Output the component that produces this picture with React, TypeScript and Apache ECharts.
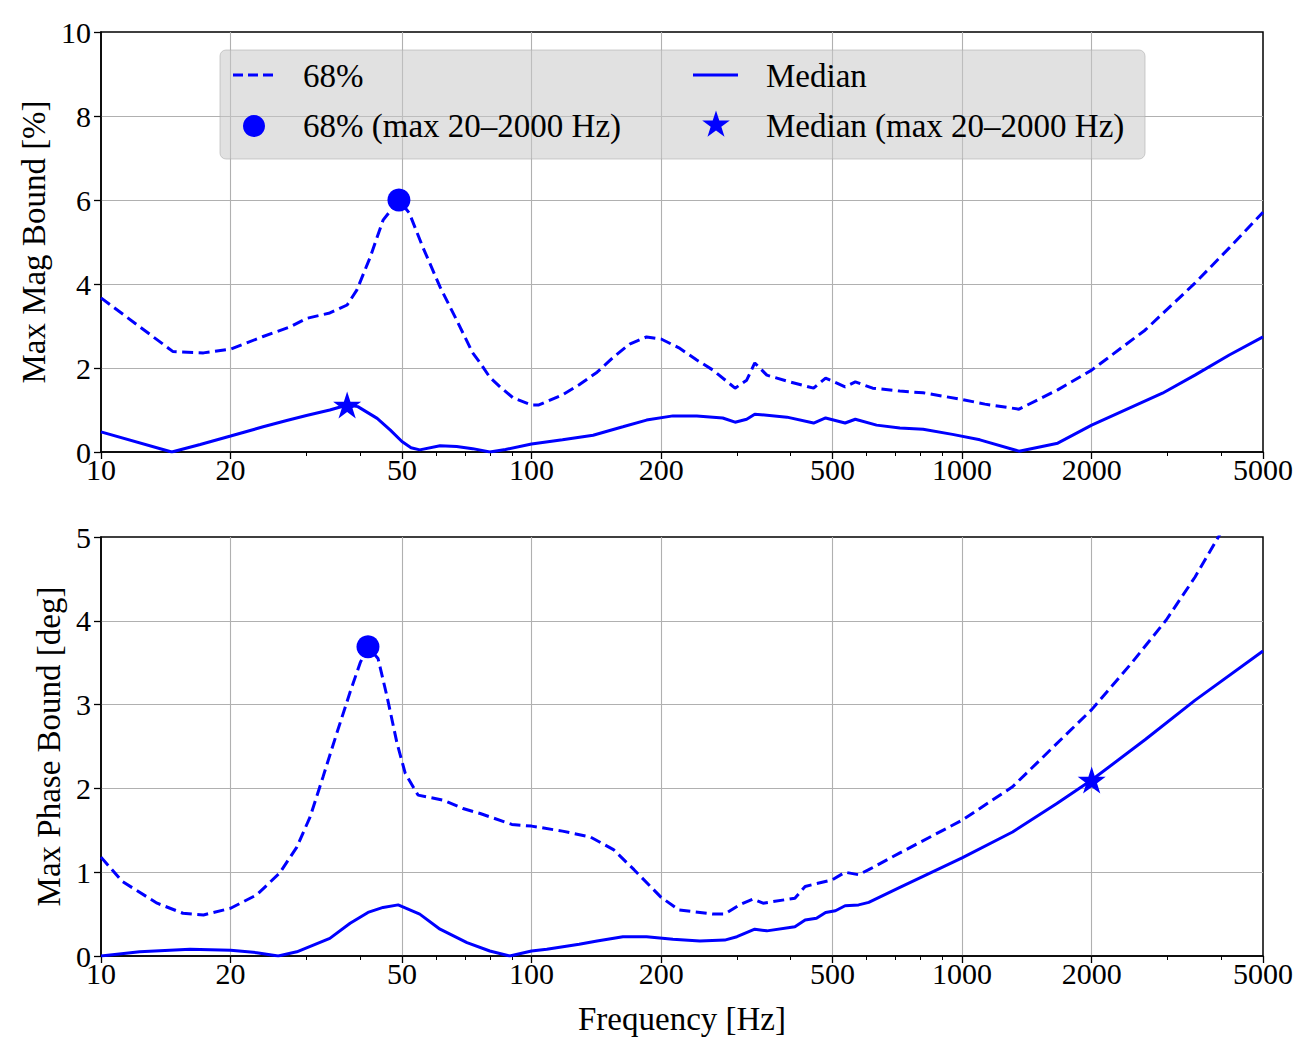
import React, { useEffect, useRef } from 'react';
import * as echarts from 'echarts';

const FONT = '"Liberation Serif", "Times New Roman", serif';
const BLUE = '#0000ff';

const xTickValues = [10, 20, 50, 100, 200, 500, 1000, 2000, 5000];
const xMinorTickValues = [30, 40, 60, 70, 80, 90, 300, 400, 600, 700, 800, 900, 3000, 4000];

const legendLabels = ['68%', '68% (max 20–2000 Hz)', 'Median', 'Median (max 20–2000 Hz)'];

const magUpperFreq = [10, 14.7, 17.3, 20, 23.8, 27.5, 30, 34, 37.3, 39.3, 42.2, 45.2, 49.2, 52, 55.9, 61.3, 67, 73, 76, 80, 84.5, 90.6, 100, 104, 118, 129, 142, 155, 169, 185, 200, 220, 242, 264, 297, 316, 330, 352, 398, 452, 482, 535, 565, 620, 717, 812, 1000, 1130, 1356, 1668, 2000, 2660, 3474, 4175, 5000];
const magUpperVals = [3.67, 2.39, 2.36, 2.45, 2.75, 2.98, 3.18, 3.31, 3.5, 3.86, 4.64, 5.52, 6.0, 5.69, 4.88, 3.93, 3.14, 2.36, 2.12, 1.78, 1.55, 1.29, 1.12, 1.12, 1.36, 1.6, 1.9, 2.26, 2.57, 2.74, 2.69, 2.48, 2.19, 1.95, 1.52, 1.71, 2.12, 1.83, 1.67, 1.52, 1.76, 1.55, 1.67, 1.52, 1.45, 1.41, 1.25, 1.14, 1.02, 1.48, 1.95, 2.9, 4.02, 4.86, 5.71];

const magMedianFreq = [10, 14.6, 17, 20, 23.8, 27, 30, 34, 37.3, 39.5, 43.8, 47, 50, 52.5, 55, 61.3, 67, 73, 80, 87, 100, 118, 139, 163, 185, 213, 242, 278, 297, 316, 330, 392, 452, 482, 535, 565, 633, 717, 812, 950, 1100, 1356, 1668, 2000, 2920, 3474, 4175, 5000];
const magMedianVals = [0.48, 0.0, 0.18, 0.38, 0.6, 0.75, 0.87, 1.0, 1.12, 1.08, 0.8, 0.52, 0.25, 0.1, 0.05, 0.15, 0.13, 0.08, 0.0, 0.06, 0.19, 0.29, 0.4, 0.6, 0.76, 0.86, 0.86, 0.81, 0.71, 0.78, 0.9, 0.83, 0.69, 0.81, 0.69, 0.78, 0.64, 0.57, 0.54, 0.42, 0.29, 0.02, 0.21, 0.64, 1.4, 1.83, 2.31, 2.74];

const phaseUpperFreq = [10, 11.2, 13.5, 15.5, 17.3, 20, 23, 26, 28.5, 30.6, 32.8, 35.3, 37.9, 40, 41.7, 44, 46.2, 48.7, 50.9, 54.5, 62.3, 69.3, 76, 90, 100, 118, 137, 155, 173, 200, 220, 264, 281, 304, 327, 345, 409, 432, 500, 535, 575, 607, 717, 1000, 1310, 2000, 2480, 2980, 3474, 3960, 4300];
const phaseUpperVals = [1.18, 0.89, 0.63, 0.51, 0.49, 0.57, 0.73, 0.99, 1.3, 1.66, 2.14, 2.66, 3.15, 3.5, 3.69, 3.55, 3.09, 2.54, 2.18, 1.92, 1.86, 1.76, 1.7, 1.57, 1.55, 1.49, 1.42, 1.27, 1.03, 0.7, 0.55, 0.5, 0.5, 0.61, 0.68, 0.63, 0.69, 0.83, 0.91, 1.0, 0.97, 1.03, 1.23, 1.62, 2.02, 2.94, 3.5, 4.01, 4.52, 5.02, 5.4];

const phaseMedianFreq = [10, 12.3, 16.1, 20, 23, 25.8, 28.5, 34, 37.9, 41.7, 45.2, 49, 55, 61.3, 70.8, 80, 89, 100, 108.5, 129, 142, 163, 185, 213, 246, 281, 300, 330, 352, 409, 432, 459, 482, 508, 535, 575, 607, 717, 1000, 1310, 1660, 2000, 2660, 3474, 5000];
const phaseMedianVals = [0.0, 0.05, 0.08, 0.07, 0.04, 0.0, 0.05, 0.21, 0.39, 0.52, 0.58, 0.61, 0.5, 0.32, 0.16, 0.06, 0.0, 0.06, 0.08, 0.14, 0.18, 0.23, 0.23, 0.2, 0.18, 0.19, 0.23, 0.32, 0.3, 0.35, 0.43, 0.45, 0.52, 0.54, 0.6, 0.61, 0.64, 0.82, 1.17, 1.48, 1.82, 2.1, 2.58, 3.05, 3.64];

const magPeak68 = [49.2, 6.0];
const magPeakMedian = [37.3, 1.12];
const phasePeak68 = [41.7, 3.69];
const phasePeakMedian = [2000, 2.1];

const STAR_PATH = 'path://M50 0 L61.2 34.5 L97.6 34.5 L68.2 55.9 L79.4 90.5 L50 69.1 L20.6 90.5 L31.8 55.9 L2.4 34.5 L38.8 34.5 Z';
const DASH = [11, 5.5];

const zip = (f: number[], v: number[]) => f.map((x, i) => [x, v[i]]);

function starPoints(cx: number, cy: number, R: number, r: number) {
  const pts: number[][] = [];
  for (let k = 0; k < 10; k++) {
    const a = -Math.PI / 2 + (k * Math.PI) / 5;
    const rad = k % 2 === 0 ? R : r;
    pts.push([cx + rad * Math.cos(a), cy + rad * Math.sin(a)]);
  }
  return pts;
}

function mainX(gridIndex: number, withName: boolean) {
  return {
    type: 'log',
    logBase: 10,
    gridIndex,
    min: 10,
    max: 5000,
    position: 'bottom',
    name: withName ? 'Frequency [Hz]' : '',
    nameLocation: 'middle',
    nameGap: 46,
    nameTextStyle: { fontFamily: FONT, fontSize: 33, color: '#000' },
    axisLine: { show: true, onZero: false, lineStyle: { color: '#000', width: 1.5 } },
    axisTick: { show: true, customValues: xTickValues, length: 7, lineStyle: { color: '#000', width: 1.3 } },
    axisLabel: {
      show: true,
      customValues: xTickValues,
      formatter: (v: number) => String(Math.round(v)),
      fontFamily: FONT,
      fontSize: 30,
      color: '#000',
      margin: 2,
    },
    splitLine: { show: true, showMinLine: false, showMaxLine: false, lineStyle: { color: '#b0b0b0', width: 1.1 } },
    minorTick: { show: false },
    minorSplitLine: { show: false },
  };
}

function minorX(gridIndex: number) {
  return {
    type: 'log',
    logBase: 10,
    gridIndex,
    min: 10,
    max: 5000,
    position: 'bottom',
    axisLine: { show: false, onZero: false },
    axisTick: { show: true, customValues: xMinorTickValues, length: 4, lineStyle: { color: '#000', width: 1 } },
    axisLabel: { show: false },
    splitLine: { show: false },
  };
}

function yAxis(gridIndex: number, max: number, interval: number, name: string, nameGap: number) {
  return {
    type: 'value',
    gridIndex,
    min: 0,
    max,
    interval,
    name,
    nameLocation: 'middle',
    nameGap,
    nameTextStyle: { fontFamily: FONT, fontSize: 33, color: '#000' },
    axisLine: { show: true, lineStyle: { color: '#000', width: 1.5 } },
    axisTick: { show: true, length: 7, lineStyle: { color: '#000', width: 1.3 } },
    axisLabel: { fontFamily: FONT, fontSize: 30, color: '#000', margin: 10 },
    splitLine: { show: true, showMinLine: false, showMaxLine: false, lineStyle: { color: '#b0b0b0', width: 1.1 } },
  };
}

function lineSeries(name: string, xi: number, yi: number, data: number[][], dashed: boolean) {
  return {
    type: 'line',
    name,
    xAxisIndex: xi,
    yAxisIndex: yi,
    data,
    symbol: 'none',
    showSymbol: false,
    silent: true,
    clip: true,
    z: 3,
    lineStyle: { color: BLUE, width: 3, type: dashed ? DASH : 'solid' },
  };
}

function markerSeries(name: string, xi: number, yi: number, point: number[], star: boolean) {
  return {
    type: 'scatter',
    name,
    xAxisIndex: xi,
    yAxisIndex: yi,
    data: [point],
    symbol: star ? STAR_PATH : 'circle',
    symbolSize: star ? [28, 27] : 23,
    silent: true,
    z: 4,
    itemStyle: { color: BLUE, opacity: 1 },
  };
}

function legendGraphics() {
  const row1 = 76;
  const row2 = 126;
  const txt = (text: string, x: number, y: number) => ({
    type: 'text',
    z: 11,
    style: { text, x, y, fontFamily: FONT, fontSize: 33, fill: '#000', verticalAlign: 'middle', align: 'left' },
  });
  return [
    {
      type: 'rect',
      z: 10,
      shape: { x: 220, y: 50, width: 925, height: 109, r: 6 },
      style: { fill: 'rgba(200,200,200,0.55)', stroke: 'rgba(175,175,175,0.6)', lineWidth: 1 },
    },
    {
      type: 'line',
      z: 11,
      shape: { x1: 233, y1: 75, x2: 273, y2: 75 },
      style: { stroke: BLUE, lineWidth: 3, lineDash: [10, 5] },
    },
    { type: 'circle', z: 11, shape: { cx: 254, cy: 126, r: 11 }, style: { fill: BLUE } },
    {
      type: 'line',
      z: 11,
      shape: { x1: 693, y1: 75, x2: 738, y2: 75 },
      style: { stroke: BLUE, lineWidth: 3 },
    },
    { type: 'polygon', z: 11, shape: { points: starPoints(716, 125, 14.5, 5.6) }, style: { fill: BLUE } },
    txt(legendLabels[0], 303, row1),
    txt(legendLabels[1], 303, row2),
    txt(legendLabels[2], 766, row1),
    txt(legendLabels[3], 766, row2),
  ];
}

const option = {
  animation: false,
  backgroundColor: '#ffffff',
  grid: [
    { left: 101, top: 32, width: 1162, height: 420, show: true, borderColor: '#000', borderWidth: 1.5, backgroundColor: 'transparent', containLabel: false, outerBoundsMode: 'none' },
    { left: 101, top: 537, width: 1162, height: 419, show: true, borderColor: '#000', borderWidth: 1.5, backgroundColor: 'transparent', containLabel: false, outerBoundsMode: 'none' },
  ],
  xAxis: [mainX(0, false), minorX(0), mainX(1, true), minorX(1)],
  yAxis: [
    yAxis(0, 10, 2, 'Max Mag Bound [%]', 48),
    yAxis(1, 5, 1, 'Max Phase Bound [deg]', 33),
  ],
  series: [
    lineSeries(legendLabels[0], 0, 0, zip(magUpperFreq, magUpperVals), true),
    lineSeries(legendLabels[2], 0, 0, zip(magMedianFreq, magMedianVals), false),
    markerSeries(legendLabels[1], 0, 0, magPeak68, false),
    markerSeries(legendLabels[3], 0, 0, magPeakMedian, true),
    lineSeries(legendLabels[0], 2, 1, zip(phaseUpperFreq, phaseUpperVals), true),
    lineSeries(legendLabels[2], 2, 1, zip(phaseMedianFreq, phaseMedianVals), false),
    markerSeries(legendLabels[1], 2, 1, phasePeak68, false),
    markerSeries(legendLabels[3], 2, 1, phasePeakMedian, true),
  ],
  graphic: { elements: legendGraphics() },
};

export default function App() {
  const ref = useRef<HTMLDivElement>(null);
  useEffect(() => {
    if (!ref.current) return;
    const chart = echarts.init(ref.current, null, { renderer: 'svg' });
    chart.setOption(option as any);
    return () => chart.dispose();
  }, []);
  return (
    <div
      ref={ref}
      style={{ position: 'fixed', left: 0, top: 0, width: 1316, height: 1057, background: '#fff' }}
    />
  );
}
